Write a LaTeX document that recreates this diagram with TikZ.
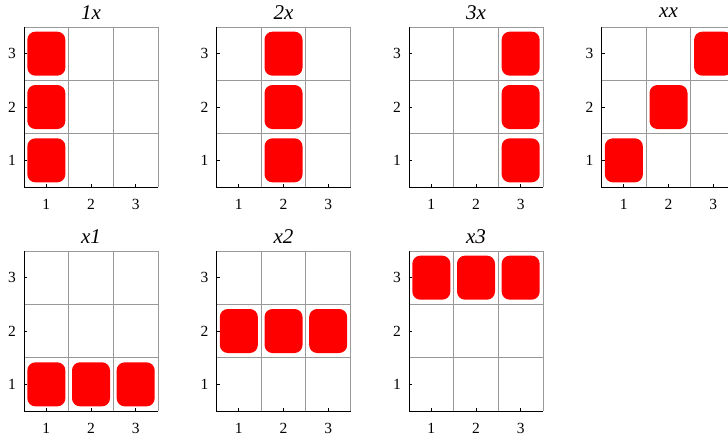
\documentclass[tikz,border=0pt]{standalone}
\usepackage{fontspec}
\setmainfont{Liberation Serif}
\begin{document}
\begin{tikzpicture}[x=1pt,y=-1pt]

  \tikzset{cell/.style = {shape=rectangle,fill=red,rounded corners=8pt,minimum width=38pt,minimum height=44pt,inner sep=0pt}}
  \tikzset{gridline/.style = {draw=black!40,line width=0.8pt}}
  \tikzset{axisline/.style = {draw=black,line width=0.9pt}}
  \tikzset{ticklabel/.style = {font=\fontsize{15.5}{15.5}\selectfont,inner sep=0pt}}
  \tikzset{paneltitle/.style = {font=\itshape\fontsize{21}{21}\selectfont,inner sep=0pt}}
  \useasboundingbox (0,0) rectangle (728,439);

  \newcommand{\gridpanel}[5]{%
    \begin{scope}[shift={(#2,#3)}]
      % grid
      \draw[gridline] (0,-160) -- (134,-160) -- (134,0);
      \foreach \k in {1,2} {
        \draw[gridline] ({\k*44.67},0) -- ({\k*44.67},-160);
        \draw[gridline] (0,{-\k*53.33}) -- (134,{-\k*53.33});
      }
      % axes and ticks
      \draw[axisline] (0,-160) -- (0,0) -- (134,0);
      \foreach \k in {1,2,3} {
        \draw[axisline] (0,{-(\k-0.5)*53.33}) -- (3,{-(\k-0.5)*53.33});
        \draw[axisline] ({(\k-0.5)*44.67},0) -- ({(\k-0.5)*44.67},-3);
        \node[ticklabel] (#1-y\k) at (-12,{-(\k-0.5)*53.33}) {\k};
        \node[ticklabel] (#1-x\k) at ({(\k-0.5)*44.67},17) {\k};
      }
      % title
      \node[paneltitle] (#1-title) at (67,-174) {#4};
      % filled cells
      \foreach \c/\r in {#5}
        \node[cell] (#1-\c-\r) at ({(\c-0.5)*44.67},{-(\r-0.5)*53.33}) {};
    \end{scope}}

  % top row
  \gridpanel{p1x}{24}{187}{1x}{1/1,1/2,1/3}
  \gridpanel{p2x}{216.5}{187}{2x}{2/1,2/2,2/3}
  \gridpanel{p3x}{409}{187}{3x}{3/1,3/2,3/3}
  \gridpanel{pxx}{601.5}{187}{xx}{1/1,2/2,3/3}
  % bottom row
  \gridpanel{px1}{24}{411}{x1}{1/1,2/1,3/1}
  \gridpanel{px2}{216.5}{411}{x2}{1/2,2/2,3/2}
  \gridpanel{px3}{409}{411}{x3}{1/3,2/3,3/3}

\end{tikzpicture}
\end{document}
